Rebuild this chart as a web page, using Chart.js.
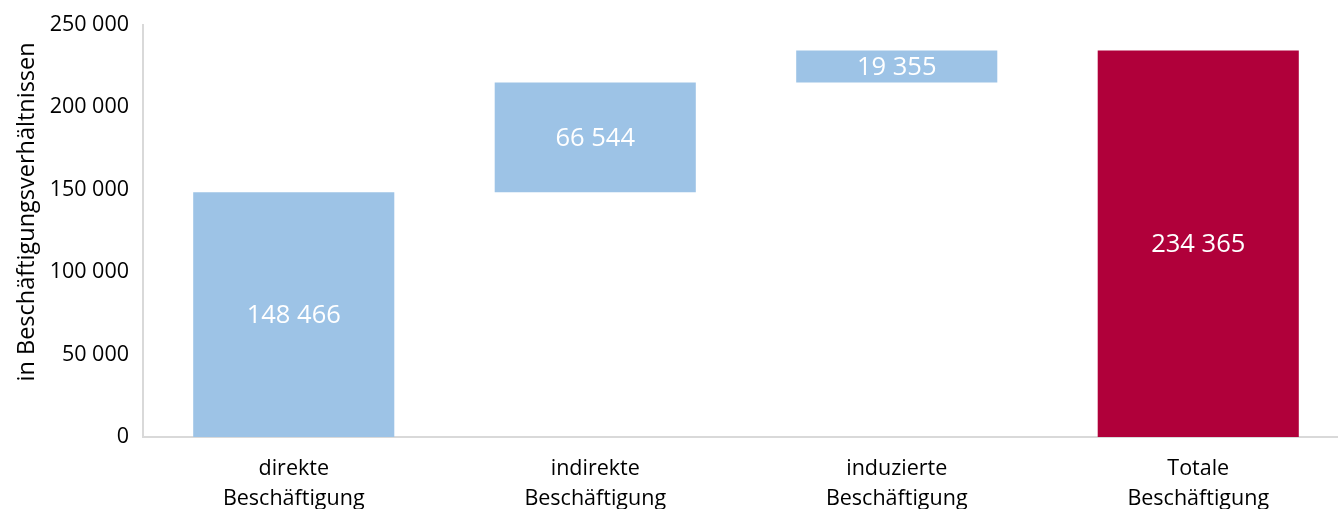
<!DOCTYPE html>
<html lang="de">
<head>
<meta charset="utf-8">
<script src="https://cdn.jsdelivr.net/npm/chart.js@4/dist/chart.umd.min.js"></script>
<style>
  html, body { margin: 0; padding: 0; background: #ffffff; overflow: hidden; }
  #wrap { position: relative; width: 1349px; height: 509px; }
</style>
</head>
<body>
<div id="wrap"><canvas id="chart"></canvas></div>
<script>
// Beschäftigungseffekte (Wasserfall)
const categories = [
  ["direkte", "Beschäftigung"],
  ["indirekte", "Beschäftigung"],
  ["induzierte", "Beschäftigung"],
  ["Totale", "Beschäftigung"]
];
const increments = [148466, 66544, 19355];
const total = 234365;
const yTicks = [0, 50000, 100000, 150000, 200000, 250000];
const yAxisTitle = "in Beschäftigungsverhältnissen";
const barColors = ["#9DC3E6", "#9DC3E6", "#9DC3E6", "#B0003A"];

// floating bars: each step starts where the previous one ended
const floating = [];
let running = 0;
for (const v of increments) {
  floating.push([running, running + v]);
  running += v;
}
floating.push([0, total]);
const shownValues = [...increments, total];

const fmt = n => String(n).replace(/\B(?=(\d{3})+(?!\d))/g, " ");
const FONT = "'Open Sans', 'DejaVu Sans', sans-serif";

const valueLabels = {
  id: "valueLabels",
  afterDatasetsDraw(chart) {
    const { ctx } = chart;
    const meta = chart.getDatasetMeta(0);
    ctx.save();
    ctx.fillStyle = "#ffffff";
    ctx.font = "25.5px " + FONT;
    ctx.textAlign = "center";
    ctx.textBaseline = "middle";
    meta.data.forEach((bar, i) => {
      const p = bar.getProps(["x", "y", "base"], true);
      ctx.fillText(fmt(shownValues[i]), p.x, (p.y + p.base) / 2 + 1);
    });
    ctx.restore();
  }
};

// rotated axis title, sitting a little above the middle of the plot
const axisTitle = {
  id: "axisTitle",
  afterDraw(chart) {
    const { ctx, chartArea } = chart;
    ctx.save();
    ctx.translate(27, chartArea.top + (chartArea.bottom - chartArea.top) * 0.454);
    ctx.rotate(-Math.PI / 2);
    ctx.fillStyle = "#000000";
    ctx.font = "23.5px " + FONT;
    ctx.textAlign = "center";
    ctx.textBaseline = "middle";
    ctx.fillText(yAxisTitle, 0, 0);
    ctx.restore();
  }
};

new Chart(document.getElementById("chart"), {
  type: "bar",
  data: {
    labels: categories,
    datasets: [{
      data: floating,
      backgroundColor: barColors,
      borderWidth: 0,
      barPercentage: 0.667,
      categoryPercentage: 1.0
    }]
  },
  options: {
    responsive: true,
    maintainAspectRatio: false,
    animation: false,
    layout: { padding: { top: 4, left: 0, right: 0, bottom: 0 } },
    plugins: {
      legend: { display: false },
      tooltip: { enabled: false }
    },
    scales: {
      x: {
        grid: { display: false, drawTicks: false },
        border: { color: "#d9d9d9", width: 2 },
        ticks: {
          color: "#000000",
          font: { family: FONT, size: 21.5, lineHeight: 1.4 },
          padding: 17,
          maxRotation: 0,
          autoSkip: false
        },
        afterFit(scale) { scale.height = 72; }
      },
      y: {
        min: 0,
        max: 250000,
        afterBuildTicks(scale) { scale.ticks = yTicks.map(v => ({ value: v })); },
        grid: { display: false, drawTicks: false },
        border: { color: "#d9d9d9", width: 2 },
        ticks: {
          color: "#000000",
          font: { family: FONT, size: 21.5, lineHeight: 1.0 },
          padding: 14,
          callback: v => fmt(v)
        },
        afterFit(scale) { scale.width = 143; }
      }
    }
  },
  plugins: [valueLabels, axisTitle]
});
</script>
</body>
</html>
